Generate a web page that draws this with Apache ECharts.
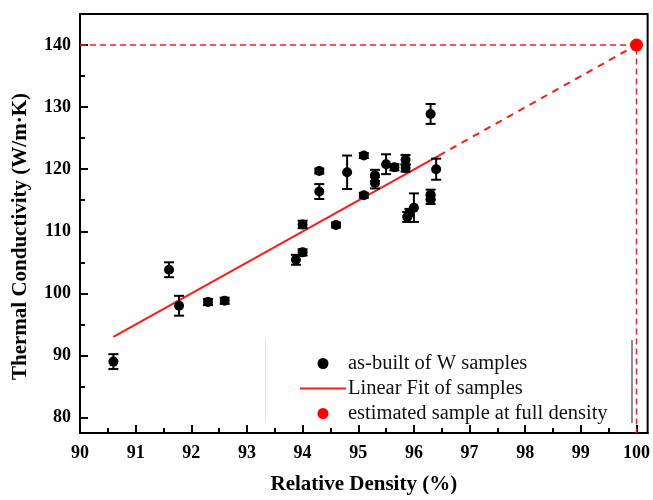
<!DOCTYPE html>
<html>
<head>
<meta charset="utf-8">
<script src="https://cdn.jsdelivr.net/npm/echarts@6/dist/echarts.min.js"></script>
<style>
  html, body { margin: 0; padding: 0; background: #fff; }
  #chart { width: 653px; height: 500px; }
</style>
</head>
<body>
<div id="chart"></div>
<script>
// measured samples
const density = [90.6, 91.6, 91.78, 92.3, 92.6, 93.88, 94.0, 94.0, 94.3, 94.3, 94.6, 94.8, 95.1, 95.1, 95.3, 95.3, 95.5, 95.65, 95.85, 95.85, 95.88, 95.92, 96.0, 96.3, 96.3, 96.3, 96.4];
const conductivity = [89.0, 103.8, 98.0, 98.6, 98.8, 105.4, 106.6, 111.1, 119.7, 116.4, 111.0, 119.5, 122.2, 115.8, 119.0, 117.8, 120.8, 120.3, 121.5, 120.2, 112.3, 113.0, 113.8, 128.9, 115.9, 115.1, 120.0];
const errorBar = [1.2, 1.2, 1.6, 0.5, 0.5, 0.8, 0.5, 0.6, 0.4, 1.2, 0.4, 2.7, 0.4, 0.4, 0.9, 0.9, 1.6, 0.5, 0.8, 0.6, 0.8, 0.6, 2.3, 1.6, 0.8, 0.7, 1.7];

// linear fit (solid part) and extrapolation to full density
const fitX = [90.6, 96.45];
const fitY = [93.0, 122.2];
const estimate = [100, 140];

// axes
const xMin = 90, xMax = 100.2;
const yMin = 77.5, yMax = 145;
const xTicks = [90, 91, 92, 93, 94, 95, 96, 97, 98, 99, 100];
const xMinorTicks = [90.5, 91.5, 92.5, 93.5, 94.5, 95.5, 96.5, 97.5, 98.5, 99.5];
const yTicks = [80, 90, 100, 110, 120, 130, 140];
const yMinorTicks = [85, 95, 105, 115, 125, 135];

const serif = "'Liberation Serif', 'Times New Roman', serif";
const chart = echarts.init(document.getElementById("chart"));

const points = density.map((d, i) => [d, conductivity[i]]);
const errors = density.map((d, i) => [d, conductivity[i] - errorBar[i], conductivity[i] + errorBar[i]]);

// 误差棒
const renderError = (params, api) => {
  const top = api.coord([api.value(0), api.value(2)]);
  const bot = api.coord([api.value(0), api.value(1)]);
  const w = 5;
  const style = { stroke: "#000", lineWidth: 2 };
  return {
    type: "group",
    children: [
      { type: "line", shape: { x1: top[0], y1: top[1], x2: bot[0], y2: bot[1] }, style },
      { type: "line", shape: { x1: top[0] - w, y1: top[1], x2: top[0] + w, y2: top[1] }, style },
      { type: "line", shape: { x1: bot[0] - w, y1: bot[1], x2: bot[0] + w, y2: bot[1] }, style },
    ],
  };
};

const labelStyle = { color: "#000", fontFamily: serif, fontWeight: "bold", fontSize: 18 };
const nameStyle = { color: "#000", fontFamily: serif, fontWeight: "bold", fontSize: 21 };

chart.setOption({
  animation: false,
  backgroundColor: "#fff",
  grid: { left: 80, right: 4, top: 14, bottom: 64, show: true, borderColor: "#000", borderWidth: 2 },
  xAxis: [
    {
      type: "value",
      min: xMin,
      max: xMax,
      name: "Relative Density (%)",
      nameLocation: "middle",
      nameGap: 41,
      nameTextStyle: nameStyle,
      axisLine: { show: true, lineStyle: { color: "#000", width: 2 } },
      axisTick: { inside: true, length: 8, customValues: xTicks, lineStyle: { color: "#000", width: 2 } },
      axisLabel: { customValues: xTicks, margin: 11, ...labelStyle },
      splitLine: { show: false },
    },
    {
      type: "value",
      min: xMin,
      max: xMax,
      position: "bottom",
      axisLine: { show: false },
      axisTick: { inside: true, length: 5, customValues: xMinorTicks, lineStyle: { color: "#000", width: 2 } },
      axisLabel: { show: false },
      splitLine: { show: false },
    },
  ],
  yAxis: [
    {
      type: "value",
      min: yMin,
      max: yMax,
      name: "Thermal Conductivity (W/m·K)",
      nameLocation: "middle",
      nameGap: 49,
      nameTextStyle: { ...nameStyle, padding: [0, 26, 0, 0] },
      axisLine: { show: true, lineStyle: { color: "#000", width: 2 } },
      axisTick: { inside: true, length: 8, customValues: yTicks, lineStyle: { color: "#000", width: 2 } },
      axisLabel: { customValues: yTicks, margin: 9, ...labelStyle },
      splitLine: { show: false },
    },
    {
      type: "value",
      min: yMin,
      max: yMax,
      position: "left",
      axisLine: { show: false },
      axisTick: { inside: true, length: 5, customValues: yMinorTicks, lineStyle: { color: "#000", width: 2 } },
      axisLabel: { show: false },
      splitLine: { show: false },
    },
  ],
  legend: {
    orient: "vertical",
    left: 295,
    top: 348,
    itemWidth: 46,
    itemHeight: 11,
    itemGap: 4,
    textStyle: { fontFamily: serif, fontSize: 20.5, color: "#111", padding: [0, 0, 0, -3] },
    data: [
      { name: "as-built of W samples", icon: "circle" },
      { name: "Linear Fit of samples", icon: "path://M0,4 L46,4 L46,6 L0,6 Z" },
      { name: "estimated sample at full density", icon: "circle" },
    ],
  },
  graphic: [
    { type: "line", shape: { x1: 265.5, y1: 340, x2: 265.5, y2: 423 }, style: { stroke: "#e4e4e4", lineWidth: 1 } },
    { type: "line", shape: { x1: 632, y1: 340, x2: 632, y2: 423 }, style: { stroke: "#444", lineWidth: 1.2 } },
  ],
  series: [
    {
      name: "error",
      type: "custom",
      renderItem: renderError,
      data: errors,
      z: 3,
    },
    {
      name: "as-built of W samples",
      type: "scatter",
      data: points,
      symbolSize: 10,
      itemStyle: { color: "#000", opacity: 1 },
      z: 4,
    },
    {
      name: "Linear Fit of samples",
      type: "line",
      symbol: "none",
      data: [[fitX[0], fitY[0]], [fitX[1], fitY[1]]],
      lineStyle: { color: "#ff1a1a", width: 2 },
      itemStyle: { color: "#ff1a1a" },
      z: 2,
    },
    {
      name: "extrapolation",
      type: "line",
      symbol: "none",
      data: [[fitX[1], fitY[1]], estimate],
      lineStyle: { color: "#ff1a1a", width: 2, type: [7, 6] },
      z: 2,
    },
    {
      name: "guide",
      type: "line",
      symbol: "none",
      data: [[xMin, estimate[1]], estimate, [estimate[0], yMin]],
      lineStyle: { color: "#ff1a1a", width: 1.5, type: [6, 4] },
      z: 2,
    },
    {
      name: "estimated sample at full density",
      type: "scatter",
      data: [estimate],
      symbolSize: 13,
      itemStyle: { color: "#ff0000", opacity: 1 },
      z: 5,
    },
  ],
});
</script>
</body>
</html>
